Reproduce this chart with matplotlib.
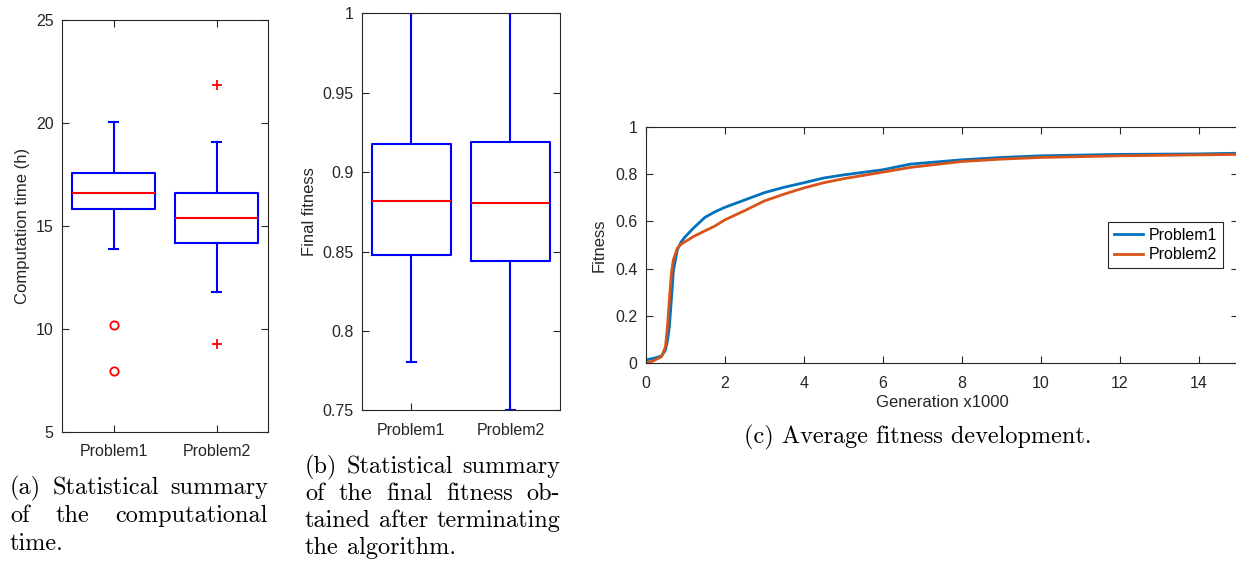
import numpy as np
import matplotlib
matplotlib.use("Agg")
import matplotlib.pyplot as plt
from matplotlib.ticker import FuncFormatter

plt.rcParams['font.family'] = ['Liberation Sans', 'DejaVu Sans']
plt.rcParams['font.size'] = 11

# (a) computation time per problem, hours
labels = ['Problem1', 'Problem2']
time_whislo = [13.85, 11.78]
time_q1 = [15.79, 14.16]
time_med = [16.58, 15.40]
time_q3 = [17.58, 16.60]
time_whishi = [20.03, 19.05]
time_fliers = [[10.18, 7.96], [21.82, 9.29]]

# (b) final fitness per problem
fit_whislo = [0.7805, 0.7500]
fit_q1 = [0.8481, 0.8441]
fit_med = [0.8816, 0.8803]
fit_q3 = [0.9178, 0.9187]
fit_whishi = [1.0, 1.0]

# (c) average fitness vs generation (x1000)
gen_p1 = [0, 0.2, 0.4, 0.5, 0.55, 0.6, 0.65, 0.7, 0.8, 0.9, 1.0, 1.2, 1.5, 1.75, 2.0,
          2.5, 3.0, 3.5, 4.0, 4.5, 5.0, 6.0, 6.7, 8.0, 9.0, 10.0, 12.0, 14.0, 15.0]
fit_p1 = [0.014, 0.021, 0.031, 0.056, 0.095, 0.155, 0.27, 0.39, 0.48, 0.514, 0.535,
          0.57, 0.617, 0.64, 0.659, 0.69, 0.721, 0.744, 0.763, 0.783, 0.796, 0.818,
          0.842, 0.86, 0.87, 0.877, 0.883, 0.885, 0.888]
gen_p2 = [0, 0.2, 0.4, 0.5, 0.55, 0.6, 0.65, 0.7, 0.8, 0.9, 1.0, 1.2, 1.5, 1.75, 2.0,
          2.5, 3.0, 3.5, 4.0, 4.5, 5.0, 6.0, 6.7, 8.0, 9.0, 10.0, 12.0, 14.0, 15.0]
fit_p2 = [0.0, 0.011, 0.028, 0.07, 0.155, 0.27, 0.38, 0.437, 0.486, 0.504, 0.514,
          0.535, 0.56, 0.58, 0.606, 0.645, 0.686, 0.715, 0.741, 0.763, 0.78, 0.808,
          0.828, 0.853, 0.863, 0.87, 0.877, 0.881, 0.883]

AX_COL = '#262626'
W, H = 1236, 564
fig = plt.figure(figsize=(W / 100, H / 100), dpi=100)


def px_axes(left, top, right, bottom):
    return fig.add_axes([left / W, 1 - bottom / H, (right - left) / W, (bottom - top) / H])


def matlab_style(ax):
    for s in ax.spines.values():
        s.set_color(AX_COL)
        s.set_linewidth(0.8)
    ax.tick_params(direction='in', top=True, right=True, length=5, width=0.8,
                   color=AX_COL, labelcolor=AX_COL, labelsize=11.5)
    ax.tick_params(axis='x', pad=9)
    ax.tick_params(axis='y', pad=6)


def draw_boxes(ax, whislo, q1, med, q3, whishi, fliers, markers):
    for i in range(len(labels)):
        st = dict(whislo=whislo[i], q1=q1[i], med=med[i], q3=q3[i], whishi=whishi[i],
                  fliers=fliers[i] if fliers else [])
        ax.bxp([st], positions=[i + 1], widths=0.8, capwidths=0.09, showfliers=True,
               boxprops=dict(color='#0000FF', lw=1.5),
               whiskerprops=dict(color='#0000FF', lw=1.5, ls='-'),
               capprops=dict(color='#0000FF', lw=1.5),
               medianprops=dict(color='#FF0000', lw=1.5),
               flierprops=dict(marker=markers[i], markeredgecolor='#FF0000',
                               markerfacecolor='none',
                               markersize=6 if markers[i] == 'o' else 7.5, mew=1.3))
    ax.set_xlim(0.5, 2.5)
    ax.set_xticks([1, 2])
    ax.set_xticklabels(labels)


# (a)
ax1 = px_axes(62, 19.5, 268, 432)
draw_boxes(ax1, time_whislo, time_q1, time_med, time_q3, time_whishi, time_fliers, ['o', '+'])
ax1.set_ylim(5, 25)
ax1.set_yticks([5, 10, 15, 20, 25])
ax1.set_ylabel('Computation time (h)', color=AX_COL, fontsize=12, labelpad=4)
matlab_style(ax1)

# (b)
ax2 = px_axes(361.7, 13.3, 560, 410.3)
draw_boxes(ax2, fit_whislo, fit_q1, fit_med, fit_q3, fit_whishi, None, ['+', '+'])
ax2.set_ylim(0.75, 1.0)
ax2.set_yticks([0.75, 0.8, 0.85, 0.9, 0.95, 1.0])
ax2.yaxis.set_major_formatter(FuncFormatter(lambda v, p: '%g' % round(v, 2)))
ax2.set_ylabel('Final fitness', color=AX_COL, fontsize=12, labelpad=4)
matlab_style(ax2)

# (c)
ax3 = px_axes(645.7, 126.7, 1238.5, 363.3)
ax3.plot(gen_p1, fit_p1, color='#0072BD', lw=2, label='Problem1')
ax3.plot(gen_p2, fit_p2, color='#D95319', lw=2, label='Problem2')
ax3.set_xlim(0, 15)
ax3.set_ylim(0, 1)
ax3.set_xticks(np.arange(0, 15, 2))
ax3.set_yticks([0, 0.2, 0.4, 0.6, 0.8, 1.0])
ax3.yaxis.set_major_formatter(FuncFormatter(lambda v, p: '%g' % round(v, 2)))
ax3.set_xlabel('Generation x1000', color=AX_COL, fontsize=12, labelpad=3)
ax3.set_ylabel('Fitness', color=AX_COL, fontsize=12, labelpad=6)
matlab_style(ax3)
leg = ax3.legend(loc='center right', bbox_to_anchor=(0.974, 0.5), borderaxespad=0,
                 fancybox=False, edgecolor=AX_COL, framealpha=1, fontsize=11.5,
                 handlelength=1.8, handletextpad=0.4, labelspacing=0.3, borderpad=0.35)
leg.get_frame().set_linewidth(0.8)

# captions, justified like the surrounding text block
cap_kw = dict(family='cmr10', fontsize=17.5, color='black', va='center')
renderer = fig.canvas.get_renderer()


def text_line(words, x0, x1, y, justify=True):
    texts = [fig.text(0, 1 - y / H, w, **cap_kw) for w in words]
    widths = [t.get_window_extent(renderer).width for t in texts]
    if justify and len(words) > 1:
        gap = ((x1 - x0) - sum(widths)) / (len(words) - 1)
    else:
        gap = fig.text(0, 0, ' ', **cap_kw).get_window_extent(renderer).width
    x = x0
    for t, w in zip(texts, widths):
        t.set_x(x / W)
        x += w + gap


text_line(['(a)', 'Statistical', 'summary'], 10, 268, 488)
text_line(['of', 'the', 'computational'], 10, 268, 516)
text_line(['time.'], 10, 268, 544, justify=False)

text_line(['(b)', 'Statistical', 'summary'], 305, 560, 467)
text_line(['of', 'the', 'final', 'fitness', 'ob-'], 305, 560, 494)
text_line(['tained', 'after', 'terminating'], 305, 560, 521)
text_line(['the', 'algorithm.'], 305, 560, 548, justify=False)

fig.text(918 / W, 1 - 437 / H, '(c) Average fitness development.', ha='center', **cap_kw)

fig.savefig('out.png', dpi=100)
